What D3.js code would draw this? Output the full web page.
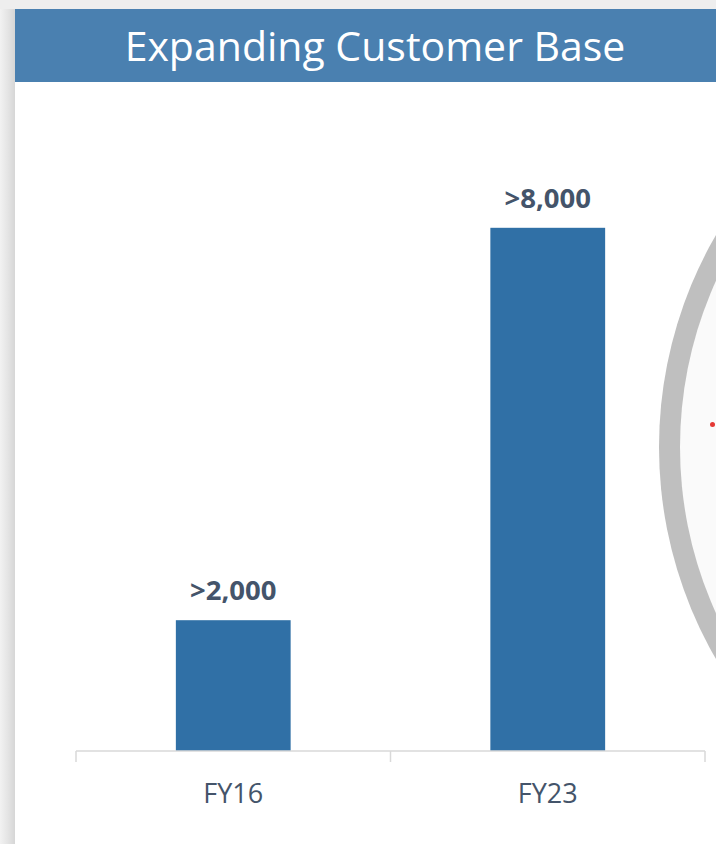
<html>
<head>
<title>Expanding Customer Base</title>
<style>
body {
	margin: 0;
	background: #eeeeee;
}
svg {
	display: block;
}
</style>
<script type="text/javascript" src="https://cdn.jsdelivr.net/npm/d3@7"></script>
</head>
<body>
<div id="chart_panel"></div>
<script type="text/javascript">

	var title = "Expanding Customer Base";
	var categories = ["FY16", "FY23"];
	var values = [2000, 8000];
	var labels = [">2,000", ">8,000"];

	var width = 716, height = 844;
	var textColor = "#44546a";

	var svg = d3.select("#chart_panel").append("svg")
		.attr("width", width)
		.attr("height", height);

	// left shadow on the grey background
	var defs = svg.append("defs");
	var grad = defs.append("linearGradient").attr("id", "shadow")
		.attr("x1", "0").attr("x2", "1").attr("y1", "0").attr("y2", "0");
	grad.append("stop").attr("offset", "0%").attr("stop-color", "#f2f2f2");
	grad.append("stop").attr("offset", "60%").attr("stop-color", "#e2e2e2");
	grad.append("stop").attr("offset", "100%").attr("stop-color", "#d6d6d6");

	svg.append("rect").attr("width", width).attr("height", height).attr("fill", "#eeeeee");
	svg.append("rect").attr("x", 0).attr("y", 9).attr("width", 15).attr("height", height).attr("fill", "url(#shadow)");

	// white panel + title bar
	svg.append("rect").attr("x", 15).attr("y", 82).attr("width", width - 15).attr("height", height - 82).attr("fill", "#ffffff");
	svg.append("rect").attr("x", 15).attr("y", 9).attr("width", width - 15).attr("height", 73).attr("fill", "#4a80b0");
	svg.append("text")
		.attr("x", 375).attr("y", 61)
		.attr("text-anchor", "middle")
		.attr("font-family", "'Open Sans', sans-serif")
		.attr("font-size", 41)
		.attr("fill", "#ffffff")
		.text(title);

	// the big ring at the right, cut by the page edge
	svg.append("circle").attr("cx", 1082).attr("cy", 447).attr("r", 423).attr("fill", "#bfbfbf");
	svg.append("circle").attr("cx", 1082).attr("cy", 447).attr("r", 402).attr("fill", "#fafafa");
	svg.append("circle").attr("cx", 712.5).attr("cy", 424.5).attr("r", 2.5).attr("fill", "#e53935");

	var x = d3.scaleBand()
		.domain(categories)
		.range([76, 705]);

	var y = d3.scaleLinear()
		.domain([0, 10000])
		.range([751, 97]);

	var barWidth = x.bandwidth() * 0.365;

	var g = svg.append("g");

	g.selectAll("rect.bar")
		.data(values)
		.enter().append("rect")
			.attr("class", "bar")
			.attr("x", function (d, i) { return x(categories[i]) + (x.bandwidth() - barWidth) / 2; })
			.attr("y", function (d) { return y(d); })
			.attr("width", barWidth)
			.attr("height", function (d) { return y(0) - y(d); })
			.attr("fill", "#3070a6");

	g.selectAll("text.value")
		.data(values)
		.enter().append("text")
			.attr("class", "value")
			.attr("x", function (d, i) { return x(categories[i]) + x.bandwidth() / 2; })
			.attr("y", function (d) { return y(d) - 20; })
			.attr("text-anchor", "middle")
			.attr("font-family", "'Open Sans', sans-serif")
			.attr("font-weight", "bold")
			.attr("font-size", 27.5)
			.attr("fill", textColor)
			.text(function (d, i) { return labels[i]; });

	// category axis with ticks between the categories
	var axis = svg.append("g").attr("stroke", "#d9d9d9").attr("stroke-width", 1.5);
	axis.append("line")
		.attr("x1", x.range()[0]).attr("x2", x.range()[1])
		.attr("y1", y(0)).attr("y2", y(0));
	var edges = categories.map(function (c) { return x(c); }).concat([x.range()[1]]);
	axis.selectAll("line.tick")
		.data(edges)
		.enter().append("line")
			.attr("class", "tick")
			.attr("x1", function (d) { return d; }).attr("x2", function (d) { return d; })
			.attr("y1", y(0)).attr("y2", y(0) + 11);

	svg.selectAll("text.cat")
		.data(categories)
		.enter().append("text")
			.attr("class", "cat")
			.attr("x", function (d) { return x(d) + x.bandwidth() / 2; })
			.attr("y", 803)
			.attr("text-anchor", "middle")
			.attr("font-family", "'Open Sans', sans-serif")
			.attr("font-size", 27)
			.attr("fill", textColor)
			.text(function (d) { return d; });

</script>
</body>
</html>
